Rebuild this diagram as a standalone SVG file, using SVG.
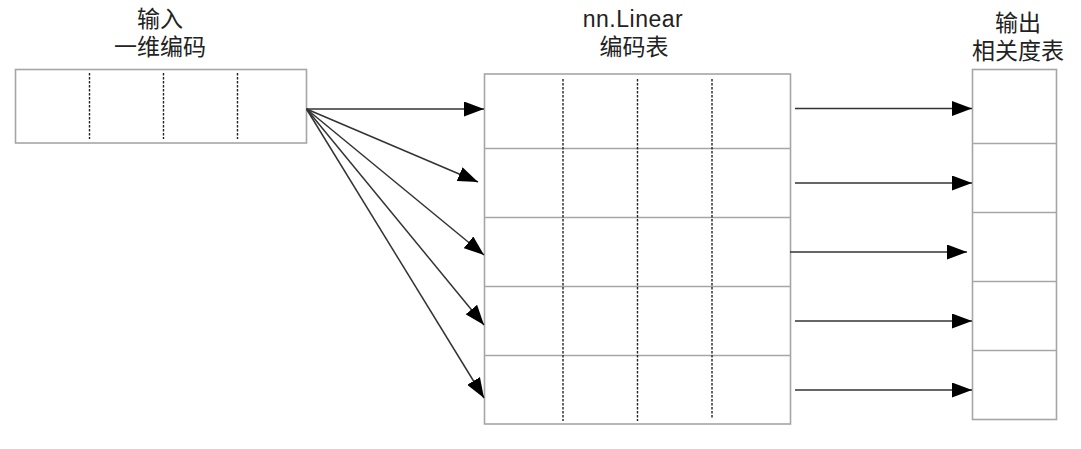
<svg xmlns="http://www.w3.org/2000/svg" width="1081" height="449" viewBox="0 0 1081 449">
<style>
.box{fill:#fff;stroke:#a6a6a6;stroke-width:1.6}
.row{stroke:#a6a6a6;stroke-width:1.6;fill:none}
.dash{stroke:#222;stroke-width:1.4;stroke-dasharray:2.5,1.5;fill:none}
.lbl{font-family:"Liberation Sans","Noto Sans CJK SC",sans-serif;font-size:23px;fill:#222;text-anchor:middle}
.arr{stroke:#333;stroke-width:1.5;fill:none;marker-end:url(#ah)}
</style>
<defs>
<marker id="ah" viewBox="0 0 20 15" refX="20" refY="7.5" markerWidth="20" markerHeight="15" markerUnits="userSpaceOnUse" orient="auto">
<path d="M0,0 L20,7.5 L0,15 Z" fill="#000"/>
</marker>
</defs>
<rect width="1081" height="449" fill="#fff"/>
<g id="input">
<text class="lbl" x="160" y="27">输入</text>
<text class="lbl" x="160" y="55">一维编码</text>
<rect class="box" x="15.5" y="69.5" width="291" height="73.5"/>
<line class="dash" x1="89.5" y1="73" x2="89.5" y2="139"/>
<line class="dash" x1="163.5" y1="73" x2="163.5" y2="139"/>
<line class="dash" x1="237.5" y1="73" x2="237.5" y2="139"/>
</g>
<g id="linear">
<text class="lbl" x="633" y="27" letter-spacing="0.5">nn.Linear</text>
<text class="lbl" x="634" y="55">编码表</text>
<rect class="box" x="484.5" y="74" width="306" height="350"/>
<line class="row" x1="484.5" y1="148.5" x2="790.5" y2="148.5"/>
<line class="row" x1="484.5" y1="217.5" x2="790.5" y2="217.5"/>
<line class="row" x1="484.5" y1="286.5" x2="790.5" y2="286.5"/>
<line class="row" x1="484.5" y1="355.5" x2="790.5" y2="355.5"/>
<line class="dash" x1="563" y1="79" x2="563" y2="421"/>
<line class="dash" x1="637.5" y1="79" x2="637.5" y2="421"/>
<line class="dash" x1="712" y1="79" x2="712" y2="418"/>
</g>
<g id="output">
<text class="lbl" x="1018" y="31">输出</text>
<text class="lbl" x="1018" y="59">相关度表</text>
<rect class="box" x="972.5" y="69.5" width="84" height="350"/>
<line class="row" x1="972.5" y1="143.5" x2="1056.5" y2="143.5"/>
<line class="row" x1="972.5" y1="212.5" x2="1056.5" y2="212.5"/>
<line class="row" x1="972.5" y1="281.5" x2="1056.5" y2="281.5"/>
<line class="row" x1="972.5" y1="350.5" x2="1056.5" y2="350.5"/>
</g>
<g id="connectors">
<line class="arr" x1="306.5" y1="109" x2="484" y2="109"/>
<line class="arr" x1="306.5" y1="109" x2="478" y2="182"/>
<line class="arr" x1="306.5" y1="109" x2="484" y2="255"/>
<line class="arr" x1="306.5" y1="109" x2="484" y2="325"/>
<line class="arr" x1="306.5" y1="109" x2="484" y2="398"/>
<line class="arr" x1="795" y1="108.5" x2="972" y2="108.5"/>
<line class="arr" x1="795" y1="183" x2="972" y2="183"/>
<line class="arr" x1="790" y1="252" x2="967" y2="252"/>
<line class="arr" x1="795" y1="321" x2="972" y2="321"/>
<line class="arr" x1="795" y1="390" x2="972" y2="390"/>
</g>
</svg>
